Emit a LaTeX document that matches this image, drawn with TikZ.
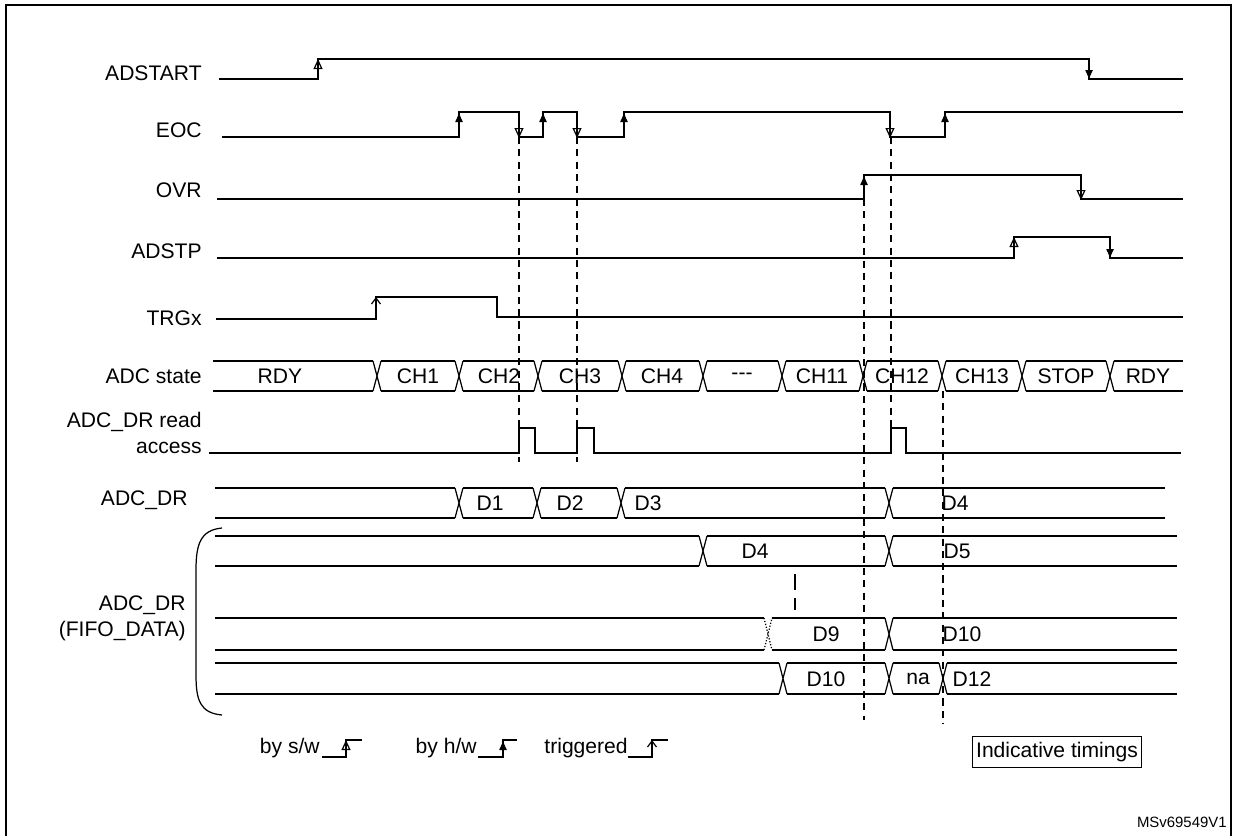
\documentclass[tikz,border=0pt]{standalone}
\usepackage{fontspec}
\setmainfont{Liberation Sans}
\usetikzlibrary{arrows.meta}

\begin{document}
\begin{tikzpicture}[x=0.02cm, y=-0.02cm,
	sig/.style={line width=0.7pt},
	hw/.style={sig, -{Latex[length=2mm, width=1.6mm]}},
	sw/.style={sig, -{Triangle[open, length=2mm, width=1.8mm]}},
	trig/.style={sig, -{Straight Barb[length=1.2mm, width=1.8mm]}},
	guide/.style={line width=0.6pt, dash pattern=on 4pt off 3pt},
	lbl/.style={anchor=east, font=\fontsize{12}{14.7}\selectfont, align=right, inner sep=0pt},
	txt/.style={font=\fontsize{12}{13}\selectfont, inner sep=0pt},
	]
	\useasboundingbox (0,0) rectangle (1237,836);
	\draw[line width=1pt] (6,836) -- (6,5) -- (1231,5) -- (1231,836);

	% signal names
	\node[lbl] (adstart) at (202,73) {ADSTART};
	\node[lbl] (eoc) at (202,130) {EOC};
	\node[lbl] (ovr) at (202,190) {OVR};
	\node[lbl] (adstp) at (202,251) {ADSTP};
	\node[lbl] (trgx) at (202,318) {TRGx};
	\node[lbl] (state) at (202,376) {ADC state};
	\node[lbl] (rdacc) at (202,433) {ADC\_DR read\\access};
	\node[lbl] (dr) at (188,500) {ADC\_DR};
	\node[lbl] (fifo) at (186,618) {ADC\_DR\\(FIFO\_DATA)};

	% ADSTART
	\draw[sig] (219,79) -- (318,79) -- (318,59) -- (1089,59) -- (1089,79) -- (1183,79);
	\draw[sw] (318,79) -- (318,59);
	\draw[hw] (1089,59) -- (1089,80);
	% EOC
	\draw[sig] (222,137) -- (459,137) -- (459,112) -- (519,112) -- (519,137) -- (543,137)
		-- (543,112) -- (577,112) -- (577,137) -- (624,137) -- (624,112) -- (890,112)
		-- (890,137) -- (945,137) -- (945,112) -- (1183,112);
	\foreach \x in {459,543,624,945} \draw[hw] (\x,137) -- (\x,112);
	\foreach \x in {519,577,890} \draw[sw] (\x,112) -- (\x,138);
	% OVR
	\draw[sig] (217,199) -- (864,199) -- (864,175) -- (1081,175) -- (1081,199) -- (1183,199);
	\draw[hw] (864,199) -- (864,175);
	\draw[sw] (1081,175) -- (1081,200);
	% ADSTP
	\draw[sig] (217,258) -- (1014,258) -- (1014,237) -- (1110,237) -- (1110,258) -- (1183,258);
	\draw[sw] (1014,258) -- (1014,237);
	\draw[hw] (1110,237) -- (1110,259);
	% TRGx
	\draw[sig] (216,319) -- (376,319) -- (376,297) -- (497,297) -- (497,317) -- (1183,317);
	\draw[trig] (376,319) -- (376,297);

	% ADC state bus
	\draw[sig] (213,361) -- (1183,361) (213,391) -- (1183,391);
	\foreach \x in {377,459,538,622,703,782,863,942,1022,1110} {
		\fill[white] (\x-4,359) rectangle (\x+4,393);
		\draw[sig] (\x-4,361) -- (\x+4,391) (\x-4,391) -- (\x+4,361);
	}
	\foreach \x/\t in {280/RDY,418/CH1,499/CH2,580/CH3,662/CH4,742/{-}{-}{-},822/CH11,902/CH12,982/CH13,1066/STOP,1148/RDY}
		\node[txt] at (\x,376) {\t};

	% read access
	\draw[sig] (209,453) -- (519,453) -- (519,428) -- (535,428) -- (535,453) -- (577,453)
		-- (577,428) -- (594,428) -- (594,453) -- (891,453) -- (891,428) -- (906,428)
		-- (906,453) -- (1181,453);

	% ADC_DR bus
	\draw[sig] (215,488) -- (1165,488) (215,518) -- (1165,518);
	\foreach \x in {459,537,621,889} {
		\fill[white] (\x-4,486) rectangle (\x+4,520);
		\draw[sig] (\x-4,488) -- (\x+4,518) (\x-4,518) -- (\x+4,488);
	}
	\foreach \x/\t in {490/D1,570/D2,648/D3,955/D4}
		\node[txt] at (\x,503) {\t};

	% FIFO rows
	\foreach \yt/\yb/\xs in {536/566/{703,889},618/650/{889},663/694/{783,889,943}} {
		\draw[sig] (215,\yt) -- (1177,\yt) (215,\yb) -- (1177,\yb);
		\foreach \x in \xs {
			\fill[white] (\x-4,\yt-2) rectangle (\x+4,\yb+2);
			\draw[sig] (\x-4,\yt) -- (\x+4,\yb) (\x-4,\yb) -- (\x+4,\yt);
		}
	}
	\fill[white] (764,616) rectangle (772,652);
	\draw[sig, densely dotted] (764,618) -- (772,650) (764,650) -- (772,618);
	\foreach \x/\y/\t in {755/551/D4,957/551/D5,826/634/D9,962/634/D10,826/679/D10,918/679/na,972/679/D12}
		\node[txt] at (\x,\y) {\t};
	\draw[sig] (795,574) -- (795,590) (795,598) -- (795,610);

	% brace
	\draw[sig] (222,528) .. controls (200,530) and (196,545) .. (196,570) -- (196,675)
		.. controls (196,700) and (200,713) .. (222,715);

	% guide lines
	\draw[guide] (519,137) -- (519,462);
	\draw[guide] (577,137) -- (577,462);
	\draw[guide] (864,199) -- (864,720);
	\draw[guide] (891,137) -- (891,453);
	\draw[guide] (943,391) -- (943,724);

	% legend
	\node[txt, anchor=east] (lsw) at (320,748) {by s/w};
	\draw[sig] (lsw.east) ++(2,9) -- (346,757) -- (346,740) -- (362,740);
	\draw[sw] (346,757) -- (346,740);
	\node[txt, anchor=east] (lhw) at (477,748) {by h/w};
	\draw[sig] (lhw.east) ++(1,9) -- (503,757) -- (503,740) -- (517,740);
	\draw[hw] (503,757) -- (503,740);
	\node[txt, anchor=east] (ltr) at (628,748) {triggered};
	\draw[sig] (ltr.east) ++(0,9) -- (652,757) -- (652,740) -- (668,740);
	\draw[trig] (652,757) -- (652,740);

	\node[txt, draw, line width=0.6pt, inner xsep=2pt, inner ysep=3pt] (ind) at (1057,752) {Indicative timings};
	\node[anchor=east, inner sep=0pt, font=\fontsize{8.5}{10}\selectfont] (ref) at (1227,822) {MSv69549V1};
\end{tikzpicture}
\end{document}
